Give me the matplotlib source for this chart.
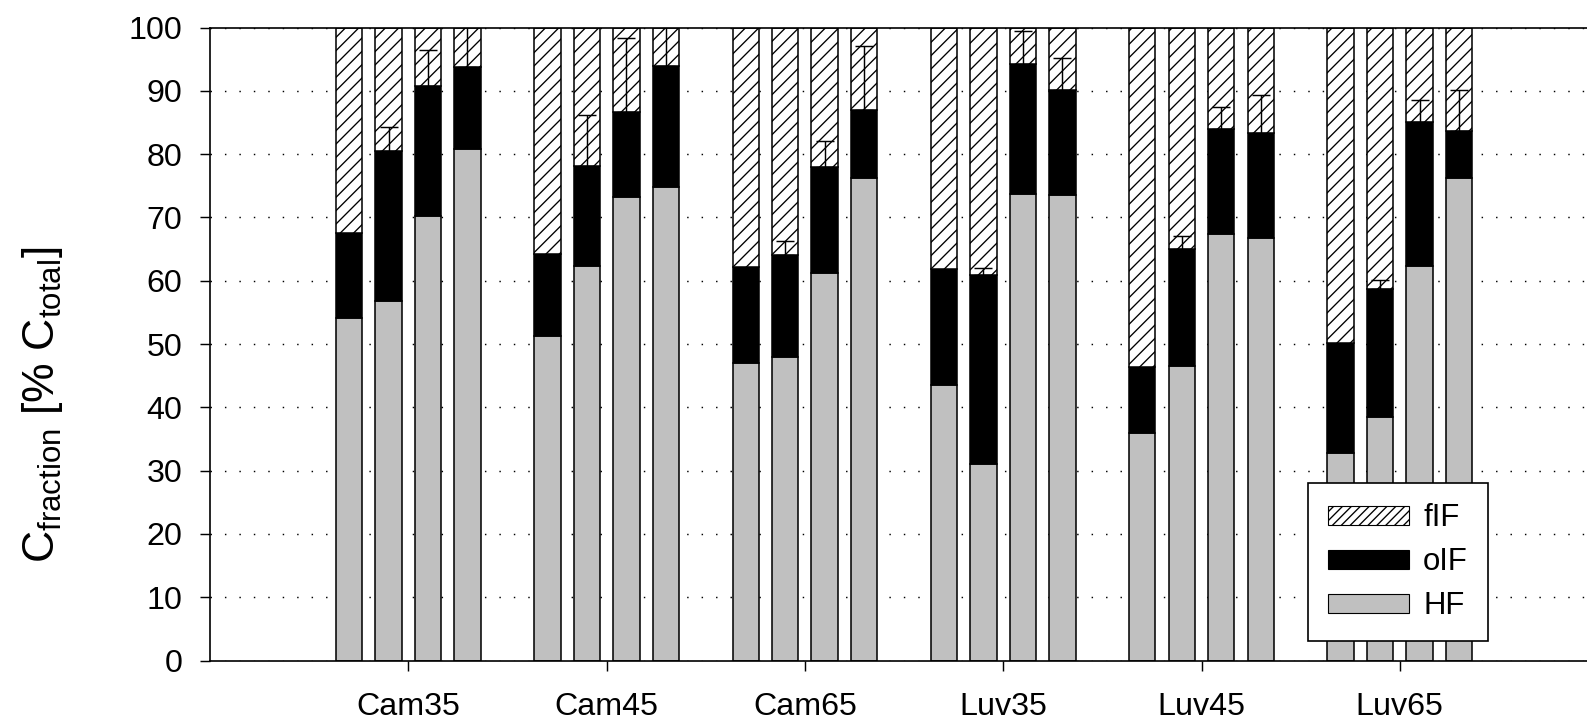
import numpy as np
import matplotlib
matplotlib.use("Agg")
import matplotlib.pyplot as plt
from matplotlib.patches import Patch

plt.rcParams['font.family'] = ['Liberation Sans', 'DejaVu Sans']
plt.rcParams['mathtext.fontset'] = 'custom'
plt.rcParams['mathtext.rm'] = 'Liberation Sans'
plt.rcParams['mathtext.it'] = 'Liberation Sans'
plt.rcParams['hatch.linewidth'] = 1.2

# Datos (4 barras por grupo)
grupos = ['Cam35', 'Cam45', 'Cam65', 'Luv35', 'Luv45', 'Luv65']
hf = [[54.1, 56.8, 70.3, 80.8],
      [51.2, 62.3, 73.2, 74.8],
      [47.0, 47.9, 61.2, 76.2],
      [43.5, 31.0, 73.7, 73.5],
      [36.0, 46.5, 67.4, 66.8],
      [32.8, 38.4, 62.4, 76.2]]
oif = [[13.4, 23.7, 20.5, 13.0],
       [13.0, 15.8, 13.5, 19.1],
       [15.2, 16.2, 16.8, 10.7],
       [18.4, 29.9, 20.6, 16.6],
       [10.3, 18.5, 16.5, 16.6],
       [17.3, 20.3, 22.6, 7.4]]
# error superior sobre HF+oIF (nan = sin barra)
err = [[np.nan, 3.8, 5.7, 7.0],
       [np.nan, 8.1, 11.6, 7.5],
       [np.nan, 2.2, 4.1, 10.2],
       [np.nan, 1.1, 5.1, 5.1],
       [np.nan, 2.1, 3.5, 5.9],
       [np.nan, 1.4, 3.5, 6.5]]

hf = np.array(hf)
oif = np.array(oif)
err = np.array(err)
fif = 100 - hf - oif

dpi = 80
fig = plt.figure(figsize=(1587 / dpi, 724 / dpi), dpi=dpi)
ax = fig.add_axes([210 / 1587, 63.5 / 724, 7 * 198.3 / 1587, 633 / 724])

centros = np.arange(1, len(grupos) + 1)
paso = 0.199
ancho = 0.133
offsets = (np.arange(4) - 1.5) * paso

for j in range(4):
    x = centros + offsets[j]
    ax.bar(x, hf[:, j], ancho, color='#c0c0c0', edgecolor='black', linewidth=1.4, zorder=2)
    ax.bar(x, oif[:, j], ancho, bottom=hf[:, j], color='black', edgecolor='black',
           linewidth=1.4, zorder=2)
    ax.bar(x, fif[:, j], ancho, bottom=hf[:, j] + oif[:, j], color='white',
           edgecolor='black', hatch='//', linewidth=1.4, zorder=2)
    ok = ~np.isnan(err[:, j])
    top = (hf[:, j] + oif[:, j])[ok]
    ax.errorbar(x[ok], top, yerr=[np.zeros(ok.sum()), err[ok, j]], fmt='none',
                ecolor='black', elinewidth=1.3, capsize=8, capthick=1.3, zorder=3)

ax.set_xlim(0, 7)
ax.set_ylim(0, 100)
ax.set_yticks(np.arange(0, 101, 10))
ax.set_xticks(centros)
ax.set_xticklabels(grupos)
ax.yaxis.grid(True, color='black', linestyle=(0, (1, 9)), linewidth=1.3)
ax.set_axisbelow(True)
ax.tick_params(axis='both', labelsize=29, length=9, width=1.3, direction='out')
ax.tick_params(axis='y', pad=16)
ax.tick_params(axis='x', pad=19)
for s in ['left', 'bottom', 'top']:
    ax.spines[s].set_linewidth(1.5)
ax.spines['right'].set_visible(False)

fig.text(42.5 / 1587, 1 - 405 / 724, r'C$_{\mathrm{fraction}}$ [% C$_{\mathrm{total}}$]',
         rotation=90, ha='center', va='center', fontsize=40)

handles = [Patch(facecolor='white', edgecolor='black', hatch='///', label='fIF'),
           Patch(facecolor='black', edgecolor='black', label='oIF'),
           Patch(facecolor='#c0c0c0', edgecolor='black', label='HF')]
leg = ax.legend(handles=handles, loc='upper left', bbox_to_anchor=(1308 / 1587, 1 - 483 / 724),
                bbox_transform=fig.transFigure, borderaxespad=0, fontsize=28,
                fancybox=False, edgecolor='black', framealpha=1,
                handlelength=2.6, handleheight=0.55, labelspacing=0.45,
                borderpad=0.65, handletextpad=0.45)
leg.get_frame().set_linewidth(1.5)

fig.savefig('out.png', dpi=dpi)
